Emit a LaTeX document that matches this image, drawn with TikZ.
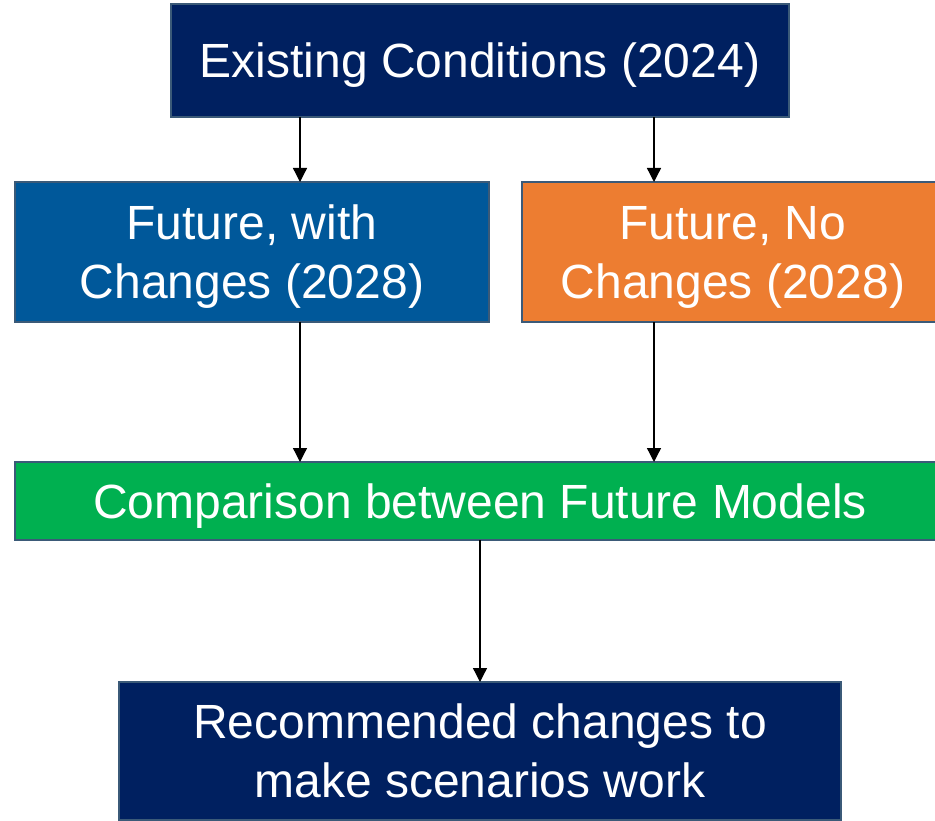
\documentclass[tikz,border=0pt]{standalone}
\usepackage{fontspec}
\setmainfont{Liberation Sans}
\usepackage{tikz}
\usetikzlibrary{arrows.meta}
\definecolor{navyfill}{HTML}{002060}
\definecolor{bluefill}{HTML}{00589A}
\definecolor{orangefill}{HTML}{ED7D31}
\definecolor{greenfill}{HTML}{00B050}
\definecolor{edgeblue}{HTML}{3B5A78}
\newcommand*\boxfont{\fontsize{48}{59}\selectfont}
\tikzset{
    stage/.style      = {draw=edgeblue, line width=2pt, text=white,
                        inner sep=0pt, outer sep=0pt, align=center,
                        text depth=0pt, font=\boxfont},
    navystage/.style  = {stage, fill=navyfill},
    bluestage/.style  = {stage, fill=bluefill},
    orangestage/.style= {stage, fill=orangefill},
    greenstage/.style = {stage, fill=greenfill},
    flow/.style       = {-{Triangle[length=14pt,width=14pt]}, line width=1.3pt},
  }

\begin{document}
\begin{tikzpicture}[x=1pt, y=-1pt]
        % page frame, the right column runs off the edge
        \useasboundingbox (0,0) rectangle (935,821);

        % x positions of the arrow columns
        \coordinate (colL) at (300,0);
        \coordinate (colR) at (654,0);
        \coordinate (colM) at (480,0);

        % row 1
        \node[navystage, minimum width=618pt, minimum height=113pt] (exist) at (480,60.5)
            {Existing Conditions (2024)};
        % row 2
        \node[bluestage, minimum width=474pt, minimum height=140pt] (withchg) at (252,252)
            {Future, with\\Changes (2028)};
        \node[orangestage, minimum width=422pt, minimum height=140pt] (nochg) at (733,252)
            {Future, No\\Changes (2028)};
        % row 3
        \node[greenstage, minimum width=930pt, minimum height=78pt] (compare) at (480,501)
            {Comparison between Future Models};
        % row 4
        \node[navystage, minimum width=722pt, minimum height=138pt] (recommend) at (480,751)
            {Recommended changes to\\make scenarios work};

        % arrows down the chart
        \draw[flow] (exist.south -| colL) -- (withchg.north -| colL);
        \draw[flow] (exist.south -| colR) -- (nochg.north -| colR);
        \draw[flow] (withchg.south -| colL) -- (compare.north -| colL);
        \draw[flow] (nochg.south -| colR) -- (compare.north -| colR);
        \draw[flow] (compare.south -| colM) -- (recommend.north -| colM);
    \end{tikzpicture}
\end{document}
